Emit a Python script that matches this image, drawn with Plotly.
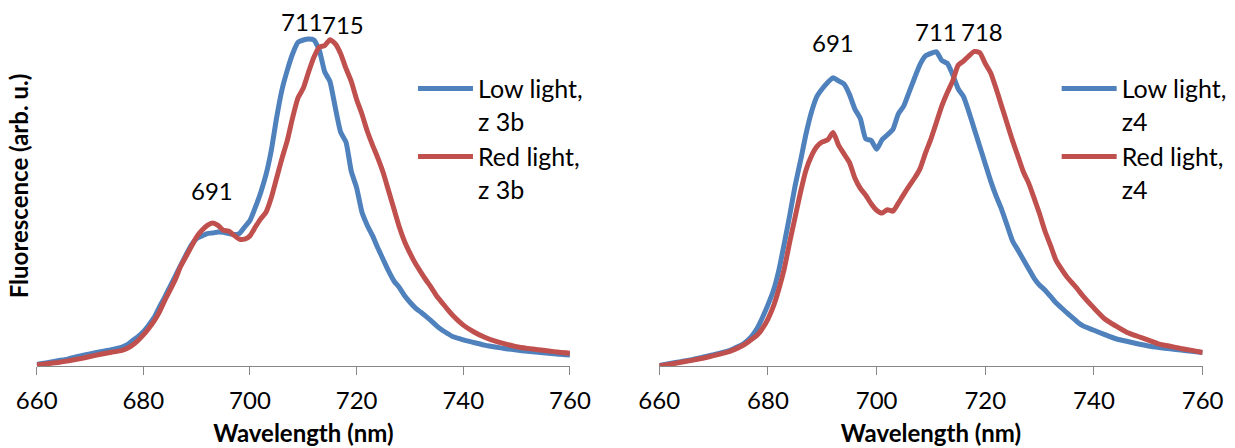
import plotly.graph_objects as go

# Emission spectra, normalised fluorescence (arb. u.)
wl_left = [660, 662, 664, 666, 668, 670, 672, 674, 676, 677, 678, 679, 680, 681, 682, 683, 684, 685,
           686, 687, 688, 689, 690, 691, 692, 693, 694, 695, 696, 697, 698, 699, 700, 701, 702, 703,
           704, 705, 706, 707, 708, 709, 710, 711, 712, 713, 714, 715, 716, 717, 718, 719, 720, 721,
           722, 723, 724, 725, 726, 727, 728, 729, 730, 731, 732, 733, 734, 735, 736, 737, 738, 740,
           742, 744, 746, 748, 750, 752, 754, 756, 758, 760]
low_z3b = [0.005, 0.010, 0.016, 0.022, 0.030, 0.037, 0.044, 0.050, 0.058, 0.065, 0.078, 0.090, 0.105,
           0.125, 0.148, 0.180, 0.210, 0.243, 0.275, 0.308, 0.340, 0.370, 0.390, 0.398, 0.405, 0.407,
           0.410, 0.409, 0.405, 0.402, 0.405, 0.425, 0.445, 0.485, 0.530, 0.585, 0.660, 0.760, 0.845,
           0.905, 0.955, 0.990, 0.997, 1.000, 0.997, 0.966, 0.900, 0.870, 0.790, 0.715, 0.685, 0.595,
           0.545, 0.470, 0.430, 0.398, 0.360, 0.325, 0.290, 0.260, 0.240, 0.215, 0.195, 0.178, 0.165,
           0.152, 0.138, 0.123, 0.110, 0.100, 0.090, 0.080, 0.072, 0.064, 0.058, 0.053, 0.049, 0.045,
           0.042, 0.039, 0.036, 0.034]
red_z3b = [0.003, 0.007, 0.011, 0.016, 0.022, 0.029, 0.036, 0.042, 0.048, 0.054, 0.064, 0.078, 0.095,
           0.115, 0.137, 0.165, 0.200, 0.232, 0.265, 0.305, 0.335, 0.365, 0.395, 0.415, 0.430, 0.437,
           0.430, 0.415, 0.413, 0.400, 0.388, 0.388, 0.398, 0.425, 0.450, 0.470, 0.515, 0.575, 0.635,
           0.690, 0.760, 0.820, 0.850, 0.900, 0.945, 0.975, 0.980, 0.998, 0.985, 0.955, 0.910, 0.870,
           0.815, 0.770, 0.718, 0.675, 0.635, 0.590, 0.535, 0.480, 0.425, 0.380, 0.345, 0.314, 0.288,
           0.263, 0.240, 0.214, 0.194, 0.174, 0.155, 0.125, 0.104, 0.088, 0.076, 0.067, 0.059, 0.054,
           0.050, 0.046, 0.042, 0.039]

wl_right = [660, 662, 664, 666, 668, 670, 672, 673, 674, 675, 676, 677, 678, 679, 680, 681, 682, 683,
            684, 685, 686, 687, 688, 689, 690, 691, 692, 693, 694, 695, 696, 697, 698, 699, 700, 701,
            702, 703, 704, 705, 706, 707, 708, 709, 710, 711, 712, 713, 714, 715, 716, 717, 718, 719,
            720, 721, 722, 723, 724, 725, 726, 727, 728, 729, 730, 731, 732, 733, 734, 735, 736, 737,
            738, 740, 742, 744, 746, 748, 750, 752, 754, 756, 758, 760]
low_z4 = [0.002, 0.008, 0.014, 0.020, 0.028, 0.036, 0.045, 0.050, 0.058, 0.066, 0.078, 0.095, 0.120,
          0.155, 0.195, 0.240, 0.305, 0.390, 0.480, 0.575, 0.655, 0.740, 0.810, 0.860, 0.885, 0.905,
          0.920, 0.910, 0.900, 0.867, 0.820, 0.790, 0.725, 0.720, 0.692, 0.722, 0.738, 0.755, 0.805,
          0.830, 0.875, 0.920, 0.963, 0.990, 0.998, 1.003, 0.975, 0.966, 0.930, 0.885, 0.860, 0.810,
          0.755, 0.700, 0.645, 0.590, 0.542, 0.500, 0.450, 0.400, 0.370, 0.340, 0.310, 0.280, 0.258,
          0.242, 0.222, 0.202, 0.186, 0.170, 0.155, 0.140, 0.128, 0.114, 0.100, 0.087, 0.079, 0.071,
          0.064, 0.059, 0.055, 0.051, 0.047, 0.043]
red_z4 = [0.000, 0.006, 0.012, 0.018, 0.025, 0.033, 0.042, 0.047, 0.054, 0.062, 0.072, 0.085, 0.098,
          0.120, 0.150, 0.190, 0.245, 0.310, 0.395, 0.475, 0.555, 0.625, 0.670, 0.700, 0.715, 0.722,
          0.745, 0.705, 0.677, 0.650, 0.600, 0.567, 0.545, 0.518, 0.497, 0.488, 0.499, 0.494, 0.520,
          0.548, 0.575, 0.600, 0.630, 0.680, 0.725, 0.777, 0.830, 0.872, 0.910, 0.960, 0.973, 0.990,
          1.004, 1.000, 0.965, 0.935, 0.885, 0.830, 0.775, 0.720, 0.670, 0.620, 0.583, 0.535, 0.485,
          0.430, 0.385, 0.338, 0.310, 0.285, 0.265, 0.245, 0.223, 0.185, 0.150, 0.128, 0.108, 0.095,
          0.083, 0.070, 0.063, 0.056, 0.050, 0.043]

# Peak labels: (wavelength, label height in data units, horizontal nudge in px)
peaks_left = [(691, 0.538, 10), (711, 1.055, -7), (715, 1.043, 13)]
peaks_right = [(691, 1.033, 5), (711, 1.068, 0), (718, 1.068, 8)]

x_ticks = [660, 680, 700, 720, 740, 760]

BLUE = "#4F81BD"
RED = "#C0504D"
AXIS_GREY = "#868686"
FONT = "Lato"

fig = go.Figure()

fig.add_trace(go.Scatter(x=wl_left, y=low_z3b, mode="lines", name="Low light,<br>z 3b",
                         line=dict(color=BLUE, width=5, shape="spline", smoothing=0.5),
                         xaxis="x", yaxis="y", legend="legend"))
fig.add_trace(go.Scatter(x=wl_left, y=red_z3b, mode="lines", name="Red light,<br>z 3b",
                         line=dict(color=RED, width=5, shape="spline", smoothing=0.5),
                         xaxis="x", yaxis="y", legend="legend"))
fig.add_trace(go.Scatter(x=wl_right, y=low_z4, mode="lines", name="Low light,<br>z4",
                         line=dict(color=BLUE, width=5, shape="spline", smoothing=0.5),
                         xaxis="x2", yaxis="y2", legend="legend2"))
fig.add_trace(go.Scatter(x=wl_right, y=red_z4, mode="lines", name="Red light,<br>z4",
                         line=dict(color=RED, width=5, shape="spline", smoothing=0.5),
                         xaxis="x2", yaxis="y2", legend="legend2"))

annotations = []
for ref, peaks in (("", peaks_left), ("2", peaks_right)):
    for wl, h, dx in peaks:
        annotations.append(dict(x=wl, y=h, xref="x" + ref, yref="y" + ref, text=str(wl),
                                showarrow=False, xshift=dx, xanchor="center", yanchor="middle",
                                font=dict(family=FONT, size=24, color="black")))

xaxis_common = dict(range=[660, 760], tickvals=x_ticks, ticks="outside", ticklen=8,
                    tickcolor=AXIS_GREY, tickwidth=1, showline=True, linecolor=AXIS_GREY,
                    linewidth=1, showgrid=False, zeroline=False, automargin=False,
                    tickfont=dict(family=FONT, size=24, color="black"),
                    title=dict(text="<b>Wavelength (nm)</b>", standoff=12,
                               font=dict(family=FONT, size=24, color="black")),
                    ticklabelstandoff=5)
yaxis_common = dict(showticklabels=False, ticks="", showline=False, showgrid=False,
                    zeroline=False, automargin=False, domain=[0.183, 0.9866])

legend_common = dict(font=dict(family=FONT, size=25, color="black"), bgcolor="rgba(0,0,0,0)",
                     borderwidth=0, itemwidth=55, valign="top", yanchor="top",
                     tracegroupgap=0, itemclick=False)

fig.update_layout(
    width=1235, height=448,
    margin=dict(l=0, r=0, t=0, b=0, autoexpand=False),
    paper_bgcolor="white", plot_bgcolor="white",
    font=dict(family=FONT, color="black"),
    xaxis=dict(domain=[0.0297, 0.4615], anchor="y", **xaxis_common),
    yaxis=dict(range=[0, 1.101], anchor="x",
               title=dict(text="<b>Fluorescence (arb. u.)</b>", standoff=0,
                          font=dict(family=FONT, size=24, color="black")),
               **yaxis_common),
    xaxis2=dict(domain=[0.5338, 0.9738], anchor="y2", **xaxis_common),
    yaxis2=dict(range=[0, 1.149], anchor="x2", **yaxis_common),
    legend=dict(x=0.3344, y=0.853, xanchor="left", **legend_common),
    legend2=dict(x=0.8556, y=0.853, xanchor="left", **legend_common),
    annotations=annotations,
)

fig.write_html("out.html")
